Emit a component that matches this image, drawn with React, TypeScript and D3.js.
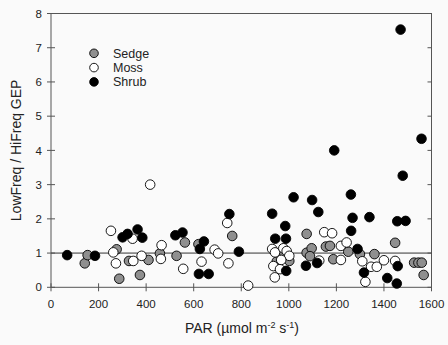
import React from "react";
import * as d3 from "d3";

const W = 448;
const H = 345;

const xTicks = [0, 200, 400, 600, 800, 1000, 1200, 1400, 1600];
const yTicks = [0, 1, 2, 3, 4, 5, 6, 7, 8];

const sedgeX = [142, 154, 276, 287, 328, 374, 410, 458, 528, 563, 620, 762, 949, 981, 1002, 1075, 1075, 1096, 1089, 1156, 1173, 1187, 1250, 1299, 1360, 1447, 1527, 1545, 1559, 1567];
const sedgeY = [0.70, 0.94, 1.11, 0.25, 0.77, 0.36, 0.80, 0.99, 0.92, 1.31, 1.26, 1.50, 0.75, 0.99, 0.77, 1.56, 1.01, 1.14, 0.91, 1.19, 1.21, 0.82, 1.04, 0.97, 0.97, 1.30, 0.72, 0.72, 0.72, 0.36];

const mossX = [252, 262, 273, 343, 346, 381, 417, 465, 462, 556, 633, 688, 703, 741, 746, 829, 930, 942, 977, 991, 1002, 935, 963, 941, 968, 1128, 1149, 1182, 1219, 1243, 1219, 1309, 1322, 1346, 1370, 1400, 1447];
const mossY = [1.65, 1.02, 0.70, 1.42, 0.77, 0.92, 3.0, 1.23, 0.83, 0.54, 0.75, 1.10, 0.99, 1.88, 0.70, 0.05, 1.12, 1.02, 1.14, 1.06, 0.92, 0.62, 0.53, 0.29, 0.80, 0.78, 1.61, 1.58, 1.21, 1.31, 0.80, 0.76, 0.16, 0.60, 0.60, 0.79, 0.77];

const shrubX = [68, 185, 301, 322, 364, 384, 523, 553, 626, 643, 622, 663, 750, 790, 930, 943, 985, 988, 989, 1020, 1072, 1098, 1124, 1119, 1191, 1261, 1268, 1262, 1289, 1316, 1339, 1414, 1456, 1491, 1479, 1470, 1558, 1458, 1454];
const shrubY = [0.94, 0.92, 1.46, 1.56, 1.69, 1.45, 1.52, 1.60, 1.12, 1.34, 0.39, 0.39, 2.14, 1.04, 2.15, 1.42, 1.79, 1.42, 0.48, 2.63, 0.63, 2.55, 2.20, 0.71, 4.00, 2.71, 2.03, 1.65, 1.12, 0.43, 2.05, 0.27, 1.93, 1.94, 3.26, 7.53, 4.34, 0.62, 0.11];

const seriesNames = ["Sedge", "Moss", "Shrub"];
const seriesFill = ["#8f8f8f", "#ffffff", "#000000"];

export default function App() {
  const left = 51, right = 431.5, top = 13.5, bottom = 287.3;
  const x = d3.scaleLinear().domain([0, 1600]).range([left, right]);
  const y = d3.scaleLinear().domain([0, 8]).range([bottom, top]);
  const r = 4.8;
  const axisColor = "#555";
  const font = "Arial, 'Liberation Sans', sans-serif";

  const series = [
    { xs: sedgeX, ys: sedgeY, fill: seriesFill[0] },
    { xs: mossX, ys: mossY, fill: seriesFill[1] },
    { xs: shrubX, ys: shrubY, fill: seriesFill[2] },
  ];

  return (
    <svg width={W} height={H} style={{ position: "absolute", left: 0, top: 0 }} fontFamily={font}>
      <rect x={0} y={0} width={W} height={H} fill="#fafafa" />
      <rect x={left} y={top} width={right - left} height={bottom - top} fill="none" stroke={axisColor} strokeWidth={1} />
      <line x1={left} x2={right} y1={y(1)} y2={y(1)} stroke="#333" strokeWidth={1} />
      {yTicks.map((t) => (
        <g key={"yt" + t}>
          <line x1={left - 4} x2={left + 4} y1={y(t)} y2={y(t)} stroke={axisColor} />
          <line x1={right - 4} x2={right} y1={y(t)} y2={y(t)} stroke={axisColor} />
          <text x={left - 9} y={y(t)} dy="0.36em" textAnchor="end" fontSize={11.5} fill="#222">{t}</text>
        </g>
      ))}
      {xTicks.map((t) => (
        <g key={"xt" + t}>
          <line x1={x(t)} x2={x(t)} y1={bottom - 4} y2={bottom + 4} stroke={axisColor} />
          <text x={x(t)} y={bottom + 20.5} textAnchor="middle" fontSize={11.5} fill="#222">{t}</text>
        </g>
      ))}
      {series.map((s, si) => (
        <g key={"s" + si}>
          {s.xs.map((v, i) => (
            <circle key={i} cx={x(v)} cy={y(s.ys[i])} r={r} fill={s.fill} stroke="#000" strokeWidth={0.9} />
          ))}
        </g>
      ))}
      {seriesNames.map((n, i) => (
        <g key={"lg" + n}>
          <circle cx={94} cy={53.3 + i * 14.3} r={4.3} fill={seriesFill[i]} stroke="#000" strokeWidth={0.9} />
          <text x={113} y={53.3 + i * 14.3} dy="0.36em" fontSize={12.5} fill="#222">{n}</text>
        </g>
      ))}
      <text transform={`translate(21,${(top + bottom) / 2}) rotate(-90)`} textAnchor="middle" fontSize={14} fill="#222">LowFreq / HiFreq GEP</text>
      <text x={242} y={333} textAnchor="middle" fontSize={14} fill="#222">
        PAR (µmol m<tspan dy={-5} fontSize={9}>-2</tspan><tspan dy={5}> s</tspan><tspan dy={-5} fontSize={9}>-1</tspan><tspan dy={5}>)</tspan>
      </text>
    </svg>
  );
}
